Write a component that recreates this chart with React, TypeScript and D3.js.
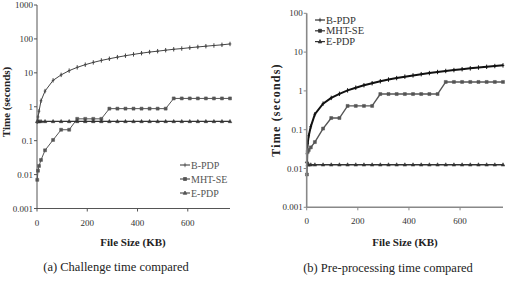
import * as d3 from 'd3';

// file sizes (KB) shared by every series
const sizes = [1, 4, 8, 16, 32, 64, 96, 128, 160, 192, 224, 256, 288, 320, 352, 384, 416, 448, 480, 512, 544, 576, 608, 640, 672, 704, 736, 768];

// (a) challenge time, seconds
const challengeBPDP = [0.36, 0.5, 0.74, 1.5, 2.9, 6, 8.7, 11.6, 14.5, 17.4, 20.3, 23.2, 26, 29, 32, 35, 38, 41, 43.5, 46.5, 49.5, 52, 55, 58, 61, 64, 67, 71];
const challengeMHT = [0.007, 0.013, 0.018, 0.027, 0.052, 0.105, 0.21, 0.21, 0.44, 0.44, 0.44, 0.44, 0.88, 0.88, 0.88, 0.88, 0.88, 0.88, 0.88, 0.88, 1.76, 1.76, 1.76, 1.76, 1.76, 1.76, 1.76, 1.76];
const challengeEPDP = [0.37, 0.37, 0.37, 0.37, 0.37, 0.37, 0.37, 0.37, 0.37, 0.37, 0.37, 0.37, 0.37, 0.37, 0.37, 0.37, 0.37, 0.37, 0.37, 0.37, 0.37, 0.37, 0.37, 0.37, 0.37, 0.37, 0.37, 0.37];

// (b) pre-processing time, seconds
const preBPDP = [0.024, 0.045, 0.07, 0.12, 0.25, 0.47, 0.66, 0.84, 1.03, 1.21, 1.4, 1.58, 1.77, 1.96, 2.14, 2.33, 2.51, 2.7, 2.88, 3.07, 3.26, 3.44, 3.63, 3.81, 4.0, 4.18, 4.37, 4.55];
const preMHT = [0.007, 0.027, 0.03, 0.035, 0.048, 0.107, 0.2, 0.2, 0.41, 0.41, 0.41, 0.41, 0.83, 0.83, 0.83, 0.83, 0.83, 0.83, 0.83, 0.83, 1.7, 1.7, 1.7, 1.7, 1.7, 1.7, 1.7, 1.7];
const preEPDP = [0.015, 0.0125, 0.0125, 0.0125, 0.0125, 0.0125, 0.0125, 0.0125, 0.0125, 0.0125, 0.0125, 0.0125, 0.0125, 0.0125, 0.0125, 0.0125, 0.0125, 0.0125, 0.0125, 0.0125, 0.0125, 0.0125, 0.0125, 0.0125, 0.0125, 0.0125, 0.0125, 0.0125];

const seriesNames = ['B-PDP', 'MHT-SE', 'E-PDP'];
const xTicks = [0, 200, 400, 600];
const yTicksA = [0.001, 0.01, 0.1, 1, 10, 100, 1000];
const yTicksB = [0.001, 0.01, 0.1, 1, 10, 100];

const serif = { fontFamily: '"Liberation Serif", "Times New Roman", "DejaVu Serif", serif' };

type Kind = 'plus' | 'square' | 'tri';

function marker(kind: Kind, x: number, y: number) {
  if (kind === 'square') return `M${x - 1.5},${y - 1.5}h3v3h-3z`;
  if (kind === 'tri') return `M${x},${y - 2}L${x + 1.8},${y + 1.3}L${x - 1.8},${y + 1.3}z`;
  return `M${x},${y - 2.2}V${y + 2.2}M${x - 1.3},${y}H${x + 1.3}`;
}

interface PanelProps {
  x0: number; x1: number; yTop: number; yBot: number;
  yTicks: number[];
  series: number[][];
  strokes: { color: string; width: number }[];
  axisColor: string; axisWidth: number;
}

function Panel({ x0, x1, yTop, yBot, yTicks, series, strokes, axisColor, axisWidth }: PanelProps) {
  const x = d3.scaleLinear().domain([0, 768]).range([x0, x1]);
  const y = d3.scaleLog().domain([yTicks[0], yTicks[yTicks.length - 1]]).range([yBot, yTop]);
  const line = d3.line<number>().x((_, i) => x(sizes[i])).y(v => y(v));
  const kinds: Kind[] = ['plus', 'square', 'tri'];
  return (
    <g>
      {series.map((vals, si) => (
        <g key={si}>
          <path d={line(vals) ?? ''} fill="none" stroke={strokes[si].color} strokeWidth={strokes[si].width} />
          {vals.map((v, i) => (
            <path key={i} d={marker(kinds[si], x(sizes[i]), y(v))}
              fill={strokes[si].color} stroke={strokes[si].color} strokeWidth={kinds[si] === 'plus' ? 1 : 0.5} />
          ))}
        </g>
      ))}
      {/* axes */}
      <line x1={x0} x2={x0} y1={yTop} y2={yBot} stroke={axisColor} strokeWidth={axisWidth} />
      <line x1={x0} x2={x1} y1={yBot} y2={yBot} stroke={axisColor} strokeWidth={axisWidth} />
      {yTicks.map(t => (
        <g key={t}>
          <line x1={x0 - 3} x2={x0} y1={y(t)} y2={y(t)} stroke={axisColor} />
          <text x={x0 - 4} y={y(t) + 3} textAnchor="end" fontSize={9} style={serif} fill="#333">
            {d3.format('~g')(t)}
          </text>
        </g>
      ))}
      {xTicks.map(t => (
        <g key={t}>
          <line x1={x(t)} x2={x(t)} y1={yBot} y2={yBot + 3} stroke={axisColor} />
          <text x={x(t)} y={yBot + 17} textAnchor="middle" fontSize={9} style={serif} fill="#333">{t}</text>
        </g>
      ))}
    </g>
  );
}

function Legend({ x, y, gap, color, fontSize }: { x: number; y: number; gap: number; color: string; fontSize: number }) {
  const kinds: Kind[] = ['plus', 'square', 'tri'];
  return (
    <g>
      {seriesNames.map((n, i) => (
        <g key={n}>
          <line x1={x} x2={x + 10} y1={y + i * gap} y2={y + i * gap} stroke={color} strokeWidth={1.2} />
          <path d={marker(kinds[i], x + 5, y + i * gap)} fill={color} stroke={color} strokeWidth={0.8} />
          <text x={x + 11} y={y + i * gap + 3.5} fontSize={fontSize} style={serif} fill={color}>{n}</text>
        </g>
      ))}
    </g>
  );
}

export default function App() {
  return (
    <svg width={505} height={286} style={{ position: 'absolute', left: 0, top: 0, background: '#fff' }}>
      <Panel x0={37} x1={230} yTop={5} yBot={208.5} yTicks={yTicksA}
        series={[challengeBPDP, challengeMHT, challengeEPDP]}
        strokes={[{ color: '#444', width: 1 }, { color: '#555', width: 1 }, { color: '#333', width: 1.2 }]}
        axisColor="#555" axisWidth={1} />
      <Legend x={180} y={165} gap={14} color="#555" fontSize={10} />
      <text transform="translate(10,102) rotate(-90)" textAnchor="middle" fontSize={11} fontWeight="bold" style={serif} fill="#222">Time (seconds)</text>
      <text x={133} y={246} textAnchor="middle" fontSize={11} fontWeight="bold" style={serif} fill="#222">File Size (KB)</text>
      <text x={116} y={271} textAnchor="middle" fontSize={12.5} style={serif} fill="#222">(a)  Challenge time compared</text>

      <Panel x0={306.7} x1={503} yTop={13.3} yBot={207.3} yTicks={yTicksB}
        series={[preBPDP, preMHT, preEPDP]}
        strokes={[{ color: '#111', width: 2 }, { color: '#555', width: 1.4 }, { color: '#333', width: 1.4 }]}
        axisColor="#888" axisWidth={1.6} />
      <Legend x={315} y={20} gap={10.8} color="#333" fontSize={10.5} />
      <text transform="translate(280,110) rotate(-90)" textAnchor="middle" fontSize={12} fontWeight="bold" letterSpacing={1.2} style={serif} fill="#222">Time (seconds)</text>
      <text x={405} y={246} textAnchor="middle" fontSize={11} fontWeight="bold" style={serif} fill="#222">File Size (KB)</text>
      <text x={388} y={272} textAnchor="middle" fontSize={12.5} style={serif} fill="#222">(b)  Pre-processing time compared</text>
    </svg>
  );
}
